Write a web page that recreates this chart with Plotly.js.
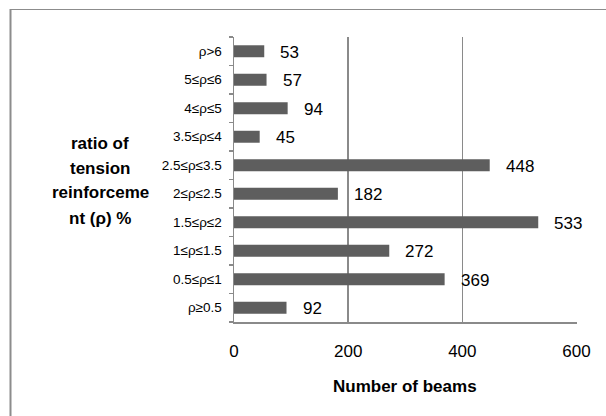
<!DOCTYPE html>
<html>
<head>
<meta charset="utf-8">
<script src="https://cdn.plot.ly/plotly-3.0.1.min.js"></script>
<style>
  html, body { margin: 0; padding: 0; background: #ffffff; }
  #chart { width: 606px; height: 416px; }
</style>
</head>
<body>
<div id="chart"></div>
<script>
// Reinforcement ratio ranges, listed from the bottom row to the top row
const ratioRanges = ["ρ≥0.5", "0.5≤ρ≤1", "1≤ρ≤1.5", "1.5≤ρ≤2", "2≤ρ≤2.5",
                     "2.5≤ρ≤3.5", "3.5≤ρ≤4", "4≤ρ≤5", "5≤ρ≤6", "ρ>6"];
const beamCounts = [92, 369, 272, 533, 182, 448, 45, 94, 57, 53];
const countTicks = [0, 200, 400, 600];
const yTitleLines = ["ratio of", "tension", "reinforceme", "nt (ρ) %"];
const xTitleText = "Number of beams";

const FONT = "Liberation Sans, Arial, sans-serif";
const GRID = "#8a8a8a";

// plot-area geometry in pixels, used to place free-floating labels
const M = { l: 234, r: 29, t: 37, b: 94 };
const W = 606, H = 416;
const plotW = W - M.l - M.r, plotH = H - M.t - M.b;
const px2x = px => (px - M.l) / plotW;
const py2y = py => (H - M.b - py) / plotH;

const annotations = [];

// value labels beside each bar
ratioRanges.forEach((cat, i) => {
  annotations.push({
    x: beamCounts[i], y: cat, xref: "x", yref: "y",
    text: String(beamCounts[i]), showarrow: false,
    xanchor: "left", yanchor: "middle", xshift: 14, yshift: -1,
    font: { family: FONT, size: 17, color: "#000" }
  });
});

// horizontal, wrapped y-axis title
const yTitleTop = 143, yTitleStep = 25;
yTitleLines.forEach((line, k) => {
  annotations.push({
    x: px2x(100), y: py2y(yTitleTop + k * yTitleStep), xref: "paper", yref: "paper",
    text: "<b>" + line + "</b>", showarrow: false,
    xanchor: "center", yanchor: "middle",
    font: { family: FONT, size: 17, color: "#000" }
  });
});

// x-axis title
annotations.push({
  x: px2x(405), y: py2y(386), xref: "paper", yref: "paper",
  text: "<b>" + xTitleText + "</b>", showarrow: false,
  xanchor: "center", yanchor: "middle",
  font: { family: FONT, size: 17, color: "#000" }
});

const trace = {
  type: "bar",
  orientation: "h",
  x: beamCounts,
  y: ratioRanges,
  marker: { color: "#5e5e5e", line: { width: 0 } },
  hoverinfo: "x+y"
};

const layout = {
  width: W, height: H,
  margin: M,
  paper_bgcolor: "#ffffff",
  plot_bgcolor: "#ffffff",
  showlegend: false,
  bargap: 0.58,
  font: { family: FONT, color: "#000" },
  xaxis: {
    // a hair past 600 so the last gridline is kept inside the plot area
    range: [0, 600.9],
    tickvals: countTicks,
    ticktext: countTicks.map(String),
    showgrid: true, gridcolor: GRID, gridwidth: 1.5,
    zeroline: false,
    showline: true, linecolor: GRID, linewidth: 1.5,
    ticks: "", ticklabelstandoff: 13,
    tickfont: { family: FONT, size: 17, color: "#000" },
    fixedrange: true
  },
  yaxis: {
    type: "category",
    categoryorder: "array", categoryarray: ratioRanges,
    showgrid: false, zeroline: false,
    showline: true, linecolor: GRID, linewidth: 1.5,
    ticks: "outside", ticklen: 4, tickwidth: 1.5, tickcolor: GRID,
    tickson: "boundaries",
    ticklabelstandoff: 8,
    tickfont: { family: FONT, size: 13.5, color: "#000" },
    fixedrange: true
  },
  annotations: annotations,
  shapes: [
    // chart frame (left and top edges; it runs past the right and bottom of the view)
    { type: "line", xref: "paper", yref: "paper",
      x0: px2x(10.5), x1: px2x(10.5), y0: py2y(9), y1: py2y(430),
      line: { color: "#8c8c8c", width: 2 } },
    { type: "line", xref: "paper", yref: "paper",
      x0: px2x(10), x1: px2x(620), y0: py2y(9.5), y1: py2y(9.5),
      line: { color: "#8c8c8c", width: 1 } }
  ]
};

Plotly.newPlot("chart", [trace], layout, { displayModeBar: false, staticPlot: true });
</script>
</body>
</html>
